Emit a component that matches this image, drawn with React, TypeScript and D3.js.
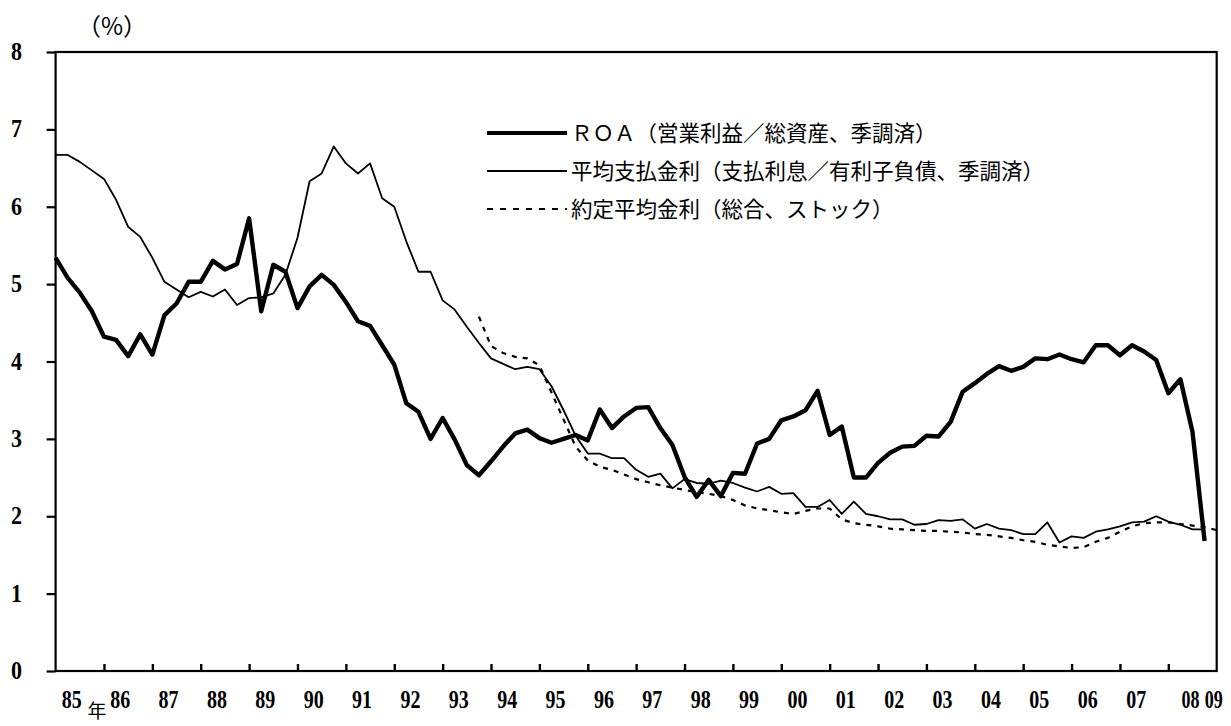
import React, { useEffect, useRef } from "react";
import * as d3 from "d3";

// quarterly series, 1985Q1 .. 2008Q4 (約定平均金利 runs from 1993Q4 to 2009Q1)
const roa = [
  5.34, 5.08, 4.89, 4.65, 4.32, 4.28, 4.07, 4.35, 4.09, 4.6, 4.75, 5.03,
  5.03, 5.3, 5.19, 5.26, 5.85, 4.65, 5.25, 5.16, 4.69, 4.97, 5.12, 4.99,
  4.77, 4.52, 4.46, 4.21, 3.96, 3.46, 3.35, 3.0, 3.27, 2.99, 2.66, 2.53,
  2.71, 2.9, 3.07, 3.12, 3.01, 2.95, 3.0, 3.05, 2.98, 3.38, 3.14, 3.29,
  3.4, 3.41, 3.14, 2.92, 2.51, 2.25, 2.47, 2.26, 2.56, 2.55, 2.94, 3.0,
  3.24, 3.29, 3.37, 3.62, 3.05, 3.16, 2.5, 2.5, 2.69, 2.82, 2.9, 2.91,
  3.04, 3.03, 3.22, 3.61, 3.72, 3.84, 3.94, 3.88, 3.93, 4.04, 4.03, 4.09,
  4.03, 3.99, 4.21, 4.21, 4.08, 4.21, 4.13, 4.02, 3.59, 3.77, 3.09, 1.68,
];
const avgPaidRate = [
  6.67, 6.67, 6.58, 6.47, 6.36, 6.09, 5.74, 5.61, 5.34, 5.03, 4.93, 4.83,
  4.9, 4.84, 4.93, 4.73, 4.82, 4.83, 4.88, 5.12, 5.6, 6.33, 6.43, 6.78,
  6.56, 6.43, 6.56, 6.11, 6.0, 5.55, 5.16, 5.16, 4.79, 4.67, 4.45, 4.24,
  4.04, 3.97, 3.9, 3.93, 3.9, 3.68, 3.37, 3.04, 2.81, 2.81, 2.75, 2.75,
  2.6, 2.51, 2.55, 2.36, 2.48, 2.43, 2.42, 2.46, 2.43, 2.37, 2.32, 2.38,
  2.29, 2.3, 2.12, 2.12, 2.21, 2.03, 2.19, 2.03, 2.0, 1.96, 1.96, 1.89,
  1.9, 1.95, 1.94, 1.96, 1.84, 1.9, 1.84, 1.82, 1.77, 1.77, 1.92, 1.66,
  1.74, 1.72, 1.8, 1.83, 1.87, 1.92, 1.93, 2.0, 1.93, 1.89, 1.83, 1.83,
];
const contractStart = 1993.75;
const contractRate = [
  4.58, 4.2, 4.11, 4.06, 4.04, 3.95, 3.6, 3.25, 2.9, 2.72, 2.64, 2.6,
  2.54, 2.48, 2.44, 2.4, 2.37, 2.34, 2.31, 2.29, 2.26, 2.21, 2.14, 2.1,
  2.08, 2.05, 2.03, 2.07, 2.1, 2.1, 1.96, 1.91, 1.89, 1.87, 1.84, 1.83,
  1.82, 1.81, 1.81, 1.8, 1.79, 1.77, 1.76, 1.74, 1.72, 1.69, 1.67, 1.63,
  1.61, 1.59, 1.6, 1.67, 1.72, 1.8, 1.87, 1.91, 1.92, 1.92, 1.9, 1.88,
  1.86, 1.82,
];

const yearLabels = [
  "85", "86", "87", "88", "89", "90", "91", "92", "93", "94", "95", "96",
  "97", "98", "99", "00", "01", "02", "03", "04", "05", "06", "07", "08", "09",
];
const yTicks = [0, 1, 2, 3, 4, 5, 6, 7, 8];

const legendItems = [
  { label: "ＲＯＡ（営業利益／総資産、季調済）", width: 4.2, dash: null },
  { label: "平均支払金利（支払利息／有利子負債、季調済）", width: 1.8, dash: null },
  { label: "約定平均金利（総合、ストック）", width: 2.2, dash: "6,7" },
];

const numFont = "'Liberation Serif', serif";
const jpFont = "'Noto Sans CJK JP', sans-serif";

export default function App() {
  const ref = useRef<SVGSVGElement>(null);

  useEffect(() => {
    const svg = d3.select(ref.current);
    svg.selectAll("*").remove();

    const x = d3.scaleLinear().domain([1985, 2009]).range([55.6, 1216.7]);
    const y = d3.scaleLinear().domain([0, 8]).range([671, 52]);

    // frame
    svg.append("rect")
      .attr("x", x(1985)).attr("y", y(8))
      .attr("width", x(2009) - x(1985)).attr("height", y(0) - y(8))
      .attr("fill", "none").attr("stroke", "#000").attr("stroke-width", 2.2);

    // left axis: ticks outward, labels drawn separately
    const yAxis = svg.append("g")
      .attr("transform", `translate(${x(1985)},0)`)
      .call(d3.axisLeft(y).tickValues(yTicks).tickSize(9).tickFormat(() => ""));
    yAxis.select(".domain").remove();
    yAxis.selectAll(".tick line").attr("stroke-width", 2.2);

    svg.append("g").selectAll("text")
      .data(yTicks)
      .join("text")
      .attr("x", 11)
      .attr("y", (d) => y(d) + 8)
      .attr("font-family", numFont).attr("font-size", 25).attr("font-weight", "bold")
      .attr("textLength", 11).attr("lengthAdjust", "spacingAndGlyphs")
      .text((d) => d);

    // bottom ticks, pointing inward
    const xAxis = svg.append("g")
      .attr("transform", `translate(0,${y(0)})`)
      .call(d3.axisBottom(x).tickValues(d3.range(1986, 2009)).tickSize(-7).tickFormat(() => ""));
    xAxis.select(".domain").remove();
    xAxis.selectAll(".tick line").attr("stroke-width", 2.4);

    // year labels (left edge positions)
    svg.append("g").selectAll("text")
      .data(yearLabels)
      .join("text")
      .attr("x", (d, i) => {
        if (d === "08") return x(2008.5) - 11;
        if (d === "09") return x(2009) - 12;
        return x(1985 + i + 0.5) - 18;
      })
      .attr("y", 708)
      .attr("font-family", numFont).attr("font-size", 25).attr("font-weight", "bold")
      .attr("textLength", (d) => (d === "08" || d === "09" ? 18 : 20))
      .attr("lengthAdjust", "spacingAndGlyphs")
      .text((d) => d);

    svg.append("text")
      .attr("x", 97).attr("y", 718)
      .attr("text-anchor", "middle")
      .attr("font-family", jpFont).attr("font-size", 19)
      .text("年");

    svg.append("text")
      .attr("x", 112).attr("y", 35)
      .attr("text-anchor", "middle")
      .attr("font-family", jpFont).attr("font-size", 24)
      .text("（%）");

    const line = d3.line<number>()
      .x((d, i) => x(1985 + i / 4))
      .y((d) => y(d));
    const lineC = d3.line<number>()
      .x((d, i) => x(contractStart + i / 4))
      .y((d) => y(d));

    svg.append("path").datum(contractRate)
      .attr("d", lineC).attr("fill", "none").attr("stroke", "#000")
      .attr("stroke-width", 2.2).attr("stroke-dasharray", "5,6");
    svg.append("path").datum(avgPaidRate)
      .attr("d", line).attr("fill", "none").attr("stroke", "#000")
      .attr("stroke-width", 1.8).attr("stroke-linejoin", "round");
    svg.append("path").datum(roa)
      .attr("d", line).attr("fill", "none").attr("stroke", "#000")
      .attr("stroke-width", 4.4).attr("stroke-linejoin", "round");

    // legend
    const lg = svg.append("g").selectAll("g")
      .data(legendItems)
      .join("g")
      .attr("transform", (d, i) => `translate(487,${133 + i * 38})`);
    lg.append("line")
      .attr("x1", 0).attr("x2", 80)
      .attr("stroke", "#000")
      .attr("stroke-width", (d) => d.width)
      .attr("stroke-dasharray", (d) => d.dash);
    lg.append("text")
      .attr("x", 84).attr("dy", "0.36em")
      .attr("font-family", jpFont).attr("font-size", 21.5)
      .text((d) => d.label);
  }, []);

  return (
    <svg
      ref={ref}
      width={1231}
      height={726}
      style={{ position: "absolute", left: 0, top: 0, background: "#fff" }}
    />
  );
}
